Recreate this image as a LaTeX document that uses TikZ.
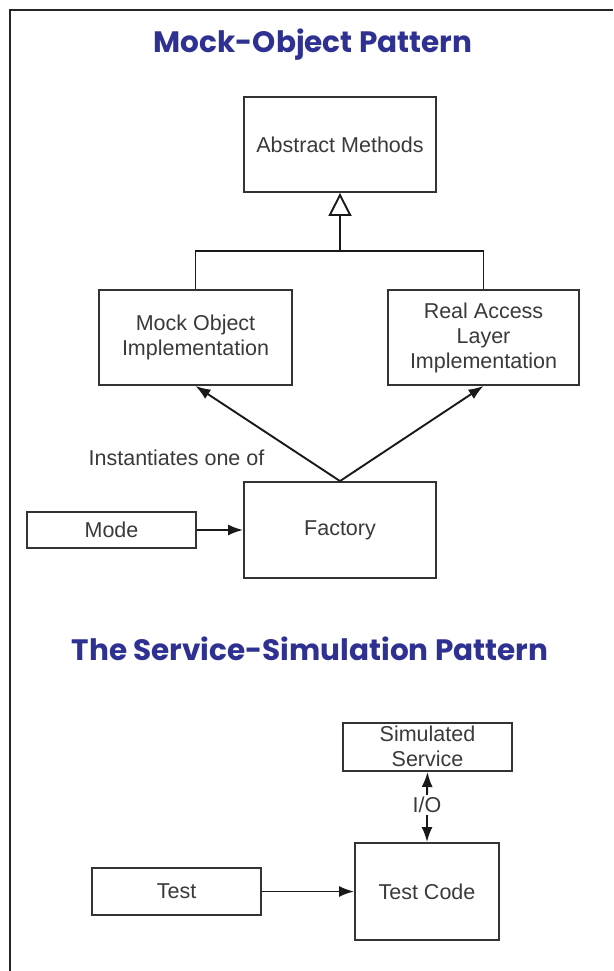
\documentclass[tikz,border=0pt]{standalone}
\usepackage{fontspec}
\setmainfont{Liberation Sans}
\newfontfamily\titlefont{Poppins}
\usepackage{tikz}
\usetikzlibrary{arrows.meta}
\definecolor{titleblue}{HTML}{2E3192}
\definecolor{boxline}{HTML}{333333}
\definecolor{labelgray}{HTML}{3A3A3A}

\begin{document}
\begin{tikzpicture}[x=1pt, y=1pt,
    >={Latex[length=15pt, width=11pt]},
    box/.style={draw=boxline, line width=1.9pt, inner sep=0pt, align=center,
      text=labelgray, font=\fontsize{21.5}{25}\selectfont},
    label/.style={text=labelgray, font=\fontsize{21.5}{25}\selectfont},
    heading/.style={text=titleblue, font=\titlefont\bfseries\fontsize{29.5}{32}\selectfont},
    link/.style={draw=black!90, line width=1.9pt}]
  \useasboundingbox[fill=white] (0,0) rectangle (613,-971);
  % frame
  \draw[line width=2.4pt, black!85] (10,-971) -- (10,-10) -- (613,-10);

  % mock-object pattern
  \node[heading] (title1) at (313,-45) {Mock-Object Pattern};

  \node[box, minimum width=192, minimum height=95] (abstract) at (340,-144.5) {Abstract Methods};
  \node[box, minimum width=193, minimum height=95] (mock) at (195.5,-337.5) {Mock Object\\Implementation};
  \node[box, minimum width=191, minimum height=95] (real) at (483.5,-337.5) {Real Access\\Layer\\Implementation};
  \node[box, minimum width=192, minimum height=96] (factory) at (340,-530) {Factory};
  \node[box, minimum width=169, minimum height=36] (mode) at (111.5,-530) {Mode};
  \node[label] (inst) at (176.5,-458) {Instantiates one of};

  \coordinate (join) at (340,-251);
  \draw[link] (mock.north) |- (join) -| (real.north);
  \draw[link, -{Triangle[open, length=23pt, width=23pt, line width=1.9pt]}] (join) -- (abstract.south);
  \draw[link, ->] (factory.north) -- (mock.south);
  \draw[link, ->] (factory.north) -- (real.south);
  \draw[link, ->] (mode.east) -- (factory.west);

  % service-simulation pattern
  \node[heading] (title2) at (310,-649) {The Service-Simulation Pattern};

  \node[box, minimum width=169, minimum height=48, text depth=0pt] (sim) at (427.5,-747) {\raisebox{2pt}{Simulated}\\\raisebox{2pt}{Service}};
  \node[label, inner sep=2pt] (io) at (427,-805) {I/O};
  \node[box, minimum width=144, minimum height=97] (testcode) at (427,-891.5) {Test Code};
  \node[box, minimum width=169, minimum height=47] (test) at (176.5,-891.5) {Test};

  \draw[link, <-] (sim.south) -- (io.north);
  \draw[link, ->] (io.south) -- (testcode.north);
  \draw[link, ->] (test.east) -- (testcode.west);
\end{tikzpicture}
\end{document}
